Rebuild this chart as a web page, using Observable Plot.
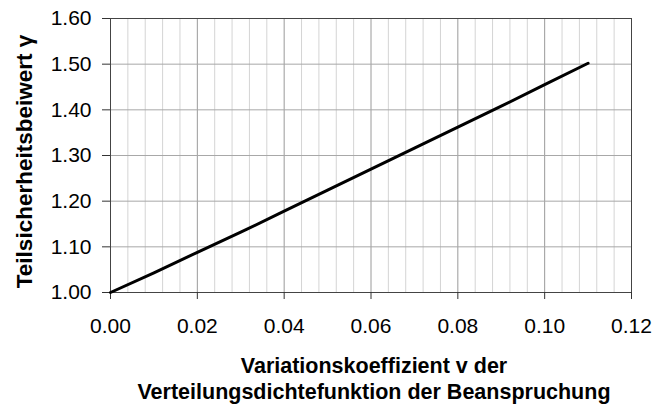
<!DOCTYPE html>
<html>
<head>
<meta charset="utf-8">
<script src="https://cdn.jsdelivr.net/npm/d3@7"></script>
<script src="https://cdn.jsdelivr.net/npm/@observablehq/plot@0.6"></script>
<style>
  html, body { margin: 0; padding: 0; background: #fff; }
  svg { font-family: Arial, "Liberation Sans", sans-serif; }
</style>
</head>
<body>
<div id="chart"></div>
<script>
// Data
const vValues     = [0.00, 0.01, 0.02, 0.03, 0.04, 0.05, 0.06, 0.07, 0.08, 0.09, 0.10, 0.11];
const gammaValues = [1.000, 1.043, 1.088, 1.132, 1.178, 1.224, 1.270, 1.316, 1.362, 1.408, 1.455, 1.502];

const xTicks = [0.00, 0.02, 0.04, 0.06, 0.08, 0.10, 0.12];
const yTicks = [1.00, 1.10, 1.20, 1.30, 1.40, 1.50, 1.60];
const xMinorGrid = [0.004, 0.008, 0.012, 0.016, 0.024, 0.028, 0.032, 0.036, 0.044, 0.048, 0.052, 0.056,
                    0.064, 0.068, 0.072, 0.076, 0.084, 0.088, 0.092, 0.096, 0.104, 0.108, 0.112, 0.116];

const xTitle = "Variationskoeffizient v der\nVerteilungsdichtefunktion der Beanspruchung";
const yTitle = "Teilsicherheitsbeiwert γ";

const data = vValues.map((v, i) => ({v, g: gammaValues[i]}));

const chart = Plot.plot({
  width: 652,
  height: 407,
  marginLeft: 110,
  marginRight: 21,
  marginTop: 18,
  marginBottom: 115,
  style: {fontFamily: "Arial, 'Liberation Sans', sans-serif", fontSize: "21px", color: "#000", background: "#fff"},
  x: {domain: [0, 0.12]},
  y: {domain: [1.0, 1.6]},
  marks: [
    Plot.ruleX(xMinorGrid, {stroke: "#d4d4d4", strokeWidth: 1}),
    Plot.ruleX(xTicks, {stroke: "#9a9a9a", strokeWidth: 1}),
    Plot.ruleY(yTicks, {stroke: "#a8a8a8", strokeWidth: 1}),
    Plot.frame({stroke: "#444", strokeWidth: 1}),
    Plot.axisX(xTicks, {tickSize: 7, tickPadding: 19, tickFormat: d3.format(".2f"), stroke: "#333", label: null, fontSize: 21}),
    Plot.axisY(yTicks, {tickSize: 8, tickPadding: 11, tickFormat: d3.format(".2f"), stroke: "#333", label: null, fontSize: 21}),
    Plot.line(data, {x: "v", y: "g", stroke: "#000", strokeWidth: 3}),
    Plot.text([xTitle], {frameAnchor: "bottom", dx: 3, dy: 62, lineAnchor: "top", text: d => d, fontWeight: "bold", fontSize: 21.5, lineHeight: 1.22, fill: "#000"}),
    Plot.text([yTitle], {frameAnchor: "left", textAnchor: "middle", dx: -86, dy: 6, rotate: -90, text: d => d, fontWeight: "bold", fontSize: 22.5, fill: "#000"})
  ]
});
document.getElementById("chart").appendChild(chart);
</script>
</body>
</html>
